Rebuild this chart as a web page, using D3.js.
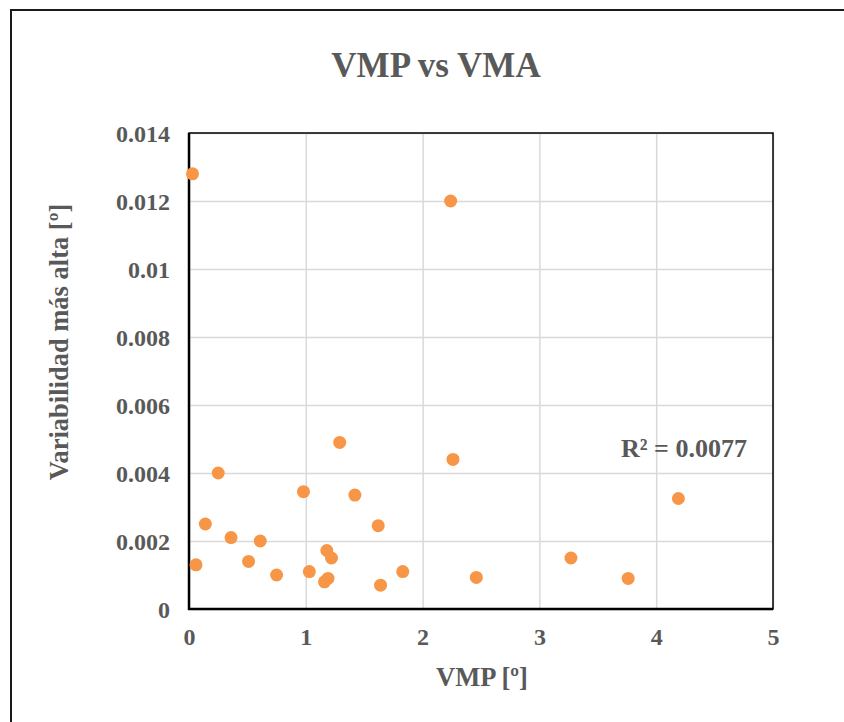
<!DOCTYPE html>
<html>
<head>
<meta charset="utf-8">
<script src="https://cdn.jsdelivr.net/npm/d3@7"></script>
<style>
  html, body { margin: 0; padding: 0; background: #fff; }
  svg { display: block; }
  text { font-family: "Liberation Serif", "Times New Roman", serif; font-weight: bold; fill: #595959; }
</style>
</head>
<body>
<svg id="chart" width="844" height="722"></svg>
<script>
const chartTitle = "VMP vs VMA";
const xTitle = "VMP [º]";
const yTitle = "Variabilidad más alta [º]";
const rSquaredLabel = "R² = 0.0077";

const vmp = [0.03, 2.24, 1.29, 2.26, 0.25, 0.98, 1.42, 0.14, 1.62, 0.36, 0.61, 1.18, 1.22,
             0.06, 0.51, 0.75, 1.03, 1.19, 1.16, 1.64, 1.83, 2.46, 3.27, 3.76, 4.19];
const vma = [0.0128, 0.0120, 0.0049, 0.0044, 0.0040, 0.00345, 0.00335, 0.0025, 0.00245, 0.0021,
             0.0020, 0.00172, 0.0015, 0.0013, 0.0014, 0.0010, 0.0011, 0.0009, 0.0008, 0.0007,
             0.0011, 0.00093, 0.0015, 0.0009, 0.00325];

const xTicks = [0, 1, 2, 3, 4, 5];
const xTickLabels = ["0", "1", "2", "3", "4", "5"];
const yTicks = [0, 0.002, 0.004, 0.006, 0.008, 0.01, 0.012, 0.014];
const yTickLabels = ["0", "0.002", "0.004", "0.006", "0.008", "0.01", "0.012", "0.014"];

const svg = d3.select("#chart");
const W = 844, H = 722;
const plot = { left: 189, right: 773, top: 133, bottom: 609 };

// outer chart border (extends past right/bottom edge)
svg.append("rect")
  .attr("x", 11).attr("y", 10)
  .attr("width", W + 20).attr("height", H + 20)
  .attr("fill", "#fff").attr("stroke", "#1a1a1a").attr("stroke-width", 2);

const x = d3.scaleLinear().domain([0, 5]).range([plot.left, plot.right]);
const y = d3.scaleLinear().domain([0, 0.014]).range([plot.bottom, plot.top]);

// gridlines
const gx = d3.axisBottom(x).tickValues(xTicks).tickSize(-(plot.bottom - plot.top)).tickFormat("");
svg.append("g").attr("transform", `translate(0,${plot.bottom})`).call(gx)
  .call(g => g.select(".domain").remove())
  .call(g => g.selectAll("line").attr("stroke", "#d9d9d9").attr("stroke-width", 1.5));
const gy = d3.axisLeft(y).tickValues(yTicks).tickSize(-(plot.right - plot.left)).tickFormat("");
svg.append("g").attr("transform", `translate(${plot.left},0)`).call(gy)
  .call(g => g.select(".domain").remove())
  .call(g => g.selectAll("line").attr("stroke", "#d9d9d9").attr("stroke-width", 1.5));

// plot border
svg.append("rect")
  .attr("x", plot.left).attr("y", plot.top)
  .attr("width", plot.right - plot.left).attr("height", plot.bottom - plot.top)
  .attr("fill", "none").attr("stroke", "#000").attr("stroke-width", 1.5);

// axes lines (thicker left and bottom)
svg.append("line").attr("x1", plot.left).attr("x2", plot.left)
  .attr("y1", plot.top).attr("y2", plot.bottom + 1).attr("stroke", "#000").attr("stroke-width", 2.5);
svg.append("line").attr("x1", plot.left - 1).attr("x2", plot.right)
  .attr("y1", plot.bottom).attr("y2", plot.bottom).attr("stroke", "#000").attr("stroke-width", 2.5);

// tick labels
const xAxis = d3.axisBottom(x).tickValues(xTicks).tickSize(0).tickPadding(0)
  .tickFormat((d, i) => xTickLabels[i]);
svg.append("g").attr("transform", `translate(0,${plot.bottom})`).call(xAxis)
  .call(g => g.select(".domain").remove())
  .call(g => g.selectAll("text").attr("y", 36).attr("dy", 0)
    .style("font-size", "24px").attr("fill", "#595959"));

const yAxis = d3.axisLeft(y).tickValues(yTicks).tickSize(0).tickPadding(0)
  .tickFormat((d, i) => yTickLabels[i]);
svg.append("g").attr("transform", `translate(${plot.left},0)`).call(yAxis)
  .call(g => g.select(".domain").remove())
  .call(g => g.selectAll("text").attr("x", -19).attr("dy", "0.35em")
    .style("font-size", "24px").attr("fill", "#595959"));

// points
svg.append("g").selectAll("circle")
  .data(vmp.map((v, i) => [v, vma[i]]))
  .join("circle")
  .attr("cx", d => x(d[0]))
  .attr("cy", d => y(d[1]))
  .attr("r", 6.5)
  .attr("fill", "#F79646");

// titles
svg.append("text").attr("x", 436).attr("y", 77).attr("text-anchor", "middle")
  .style("font-size", "35px").text(chartTitle);
svg.append("text").attr("x", 482).attr("y", 686).attr("text-anchor", "middle")
  .style("font-size", "26.5px").text(xTitle);
svg.append("text").attr("transform", "translate(68,342) rotate(-90)").attr("text-anchor", "middle")
  .style("font-size", "26.5px").text(yTitle);

// R² label
svg.append("text").attr("x", 621).attr("y", 457).attr("text-anchor", "start")
  .style("font-size", "26px").text(rSquaredLabel);
</script>
</body>
</html>
